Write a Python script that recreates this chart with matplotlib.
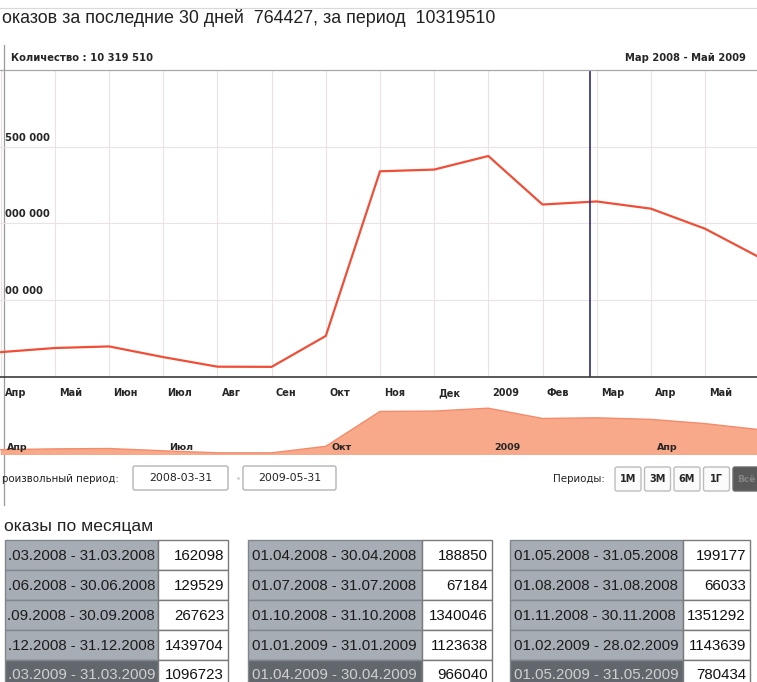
import numpy as np
import matplotlib
matplotlib.use("Agg")
import matplotlib.pyplot as plt
from matplotlib.patches import Rectangle, FancyBboxPatch

plt.rcParams['font.family'] = ['Liberation Sans', 'DejaVu Sans']

W, H = 757, 682

# monthly views, Mar 2008 .. May 2009
VIEWS = [162098, 188850, 199177, 129529, 67184, 66033, 267623, 1340046,
         1351292, 1439704, 1123638, 1143639, 1096723, 966040, 780434]
PERIODS = ["01.03.2008 - 31.03.2008", "01.04.2008 - 30.04.2008", "01.05.2008 - 31.05.2008",
           "01.06.2008 - 30.06.2008", "01.07.2008 - 31.07.2008", "01.08.2008 - 31.08.2008",
           "01.09.2008 - 30.09.2008", "01.10.2008 - 31.10.2008", "01.11.2008 - 30.11.2008",
           "01.12.2008 - 31.12.2008", "01.01.2009 - 31.01.2009", "01.02.2009 - 28.02.2009",
           "01.03.2009 - 31.03.2009", "01.04.2009 - 30.04.2009", "01.05.2009 - 31.05.2009"]
XLABELS = ["Апр", "Май", "Июн", "Июл", "Авг", "Сен", "Окт", "Ноя", "Дек", "2009",
           "Фев", "Мар", "Апр", "Май"]
NAV_LABELS = ["Апр", "Июл", "Окт", "2009", "Апр"]
NAV_POS = [0, 3, 6, 9, 12]
YTICKS = [500000, 1000000, 1500000]
YLABELS = ["00 000", "000 000", "500 000"]   # left part is cut off in the screenshot
BUTTONS = ["1М", "3М", "6М", "1Г"]

LINE = "#f04e36"
AREA = "#f8a98a"
GRID = "#ebe3e3"
SMALL_B = dict(family="DejaVu Sans", fontweight="bold", color="#262626")
SMALL = dict(family="DejaVu Sans", color="#222")

fig = plt.figure(figsize=(W / 100, H / 100), dpi=100)

# page overlay in pixel coordinates
ov = fig.add_axes([0, 0, 1, 1], zorder=0)
ov.set_xlim(0, W)
ov.set_ylim(H, 0)
ov.axis("off")

x = np.arange(len(VIEWS))
step, off = 54.17, 0.8
xlim = (-off / step, (W - off) / step)

# main chart
ax = fig.add_axes([0, 1 - 377 / H, 1, 307 / H], zorder=1)
ax.set_facecolor("none")
ax.plot(x, VIEWS, color=LINE, lw=1.6, solid_capstyle="round")
ax.set_xlim(*xlim)
ax.set_ylim(0, 2000000)
for i in range(len(XLABELS)):
    ax.axvline(i, color=GRID, lw=0.8, zorder=0)
    ax.annotate(XLABELS[i], xy=(i, 0), xycoords=("data", "axes fraction"),
                xytext=(4, -16), textcoords="offset pixels", ha="left", va="center",
                fontsize=7, **SMALL_B)
for v, lab in zip(YTICKS, YLABELS):
    ax.axhline(v, color=GRID, lw=0.8, zorder=0)
    ax.annotate(lab, xy=(0, v), xycoords=("axes fraction", "data"),
                xytext=(5, 4), textcoords="offset pixels", ha="left", va="bottom",
                fontsize=7.2, **SMALL_B)
ax.axvline(10.88, color="#2b2f7c", lw=1.2)
ax.set_xticks([])
ax.set_yticks([])
for s in ("left", "right"):
    ax.spines[s].set_visible(False)
ax.spines["top"].set_color("#a8a8a8")
ax.spines["top"].set_linewidth(0.9)
ax.spines["bottom"].set_color("#3c3c3c")
ax.spines["bottom"].set_linewidth(1.2)

# navigator
nav = fig.add_axes([0, 1 - 455 / H, 1, 52 / H], zorder=1)
nav.set_facecolor("none")
nav.fill_between(x, VIEWS, color=AREA, lw=0)
nav.plot(x, VIEWS, color="#f28c6c", lw=1.0)
nav.set_xlim(*xlim)
nav.set_ylim(0, 1600000)
nav.axis("off")
nav.axhline(0, color="#b8b8b8", lw=0.8, ls=(0, (2, 2)))
for p, lab in zip(NAV_POS, NAV_LABELS):
    nav.annotate(lab, xy=(p, 0), xycoords=("data", "axes fraction"),
                 xytext=(6, 8), textcoords="offset pixels", ha="left", va="center",
                 fontsize=6.8, **SMALL_B)

# header texts
ov.plot([0, W], [8, 8], color="#d9d9d9", lw=0.8)
ov.plot([4, 4], [45, 505], color="#9a9a9a", lw=0.9)
ov.text(2, 18, "оказов за последние 30 дней  764427, за период  10319510",
        fontsize=12.9, color="#222", va="center", ha="left")
ov.text(11, 58, "Количество : 10 319 510", fontsize=7.2, va="center", ha="left", **SMALL_B)
ov.text(625, 58, "Мар 2008 - Май 2009", fontsize=7.2, va="center", ha="left", **SMALL_B)

# period inputs
ov.text(2, 479, "роизвольный период:", fontsize=7.4, va="center", ha="left", **SMALL)
for x0, x1, txt in [(133, 228, "2008-03-31"), (243, 336, "2009-05-31")]:
    ov.add_patch(FancyBboxPatch((x0, 466), x1 - x0, 24, boxstyle="round,pad=0,rounding_size=2",
                                fc="white", ec="#b4b4b4", lw=1))
    ov.text((x0 + x1) / 2, 478, txt, fontsize=7.8, ha="center", va="center", **SMALL)
ov.plot([238], [478], marker=".", color="#cfcfcf", ms=2)

ov.text(553, 479, "Периоды:", fontsize=7.4, va="center", ha="left", **SMALL)
for k, lab in enumerate(BUTTONS):
    x0 = 615 + k * 29.5
    ov.add_patch(FancyBboxPatch((x0, 467), 26, 24, boxstyle="round,pad=0,rounding_size=2",
                                fc="#fbfbfb", ec="#bdbdbd", lw=1))
    ov.text(x0 + 13, 479, lab, fontsize=7, ha="center", va="center", **SMALL_B)
ov.add_patch(FancyBboxPatch((733, 467), 30, 24, boxstyle="round,pad=0,rounding_size=2",
                            fc="#5a5a5a", ec="#6a6a6a", lw=1))
ov.text(737, 479, "Всё", fontsize=6.5, ha="left", va="center", color="#858585",
        fontweight="bold", family="DejaVu Sans")

# monthly table
ov.text(4, 527, "оказы по месяцам", fontsize=12.6, va="center", ha="left", color="#222")
GROUPS = [(5, 158, 228), (248, 422, 492), (510, 683, 750)]
ROWS = [540, 570, 600, 630, 660, 690]
for r in range(5):
    y0, y1 = ROWS[r], ROWS[r + 1]
    last = r == 4
    yc = (y0 + y1) / 2 + (0 if last else 1)
    for g, (x0, x1, x2) in enumerate(GROUPS):
        k = 3 * r + g
        ov.add_patch(Rectangle((x0, y0), x1 - x0, y1 - y0,
                               fc="#62676d" if last else "#a6adb4", ec="#80868c", lw=1))
        ov.add_patch(Rectangle((x1, y0), x2 - x1, y1 - y0, fc="white", ec="#7a7a7a", lw=1))
        tcol = "#d0d0d0" if last else "#1c1c1c"
        if g == 0:   # first column is cut at the left edge of the screenshot
            ov.text(x1 - 3, yc, PERIODS[k][2:], fontsize=10.8, ha="right", va="center", color=tcol)
        else:
            ov.text(x0 + 4, yc, PERIODS[k], fontsize=10.8, ha="left", va="center", color=tcol)
        ov.text(x2 - 4, yc, str(VIEWS[k]), fontsize=10.8, ha="right",
                va="center", color="#111")

fig.savefig("out.png", dpi=100)
